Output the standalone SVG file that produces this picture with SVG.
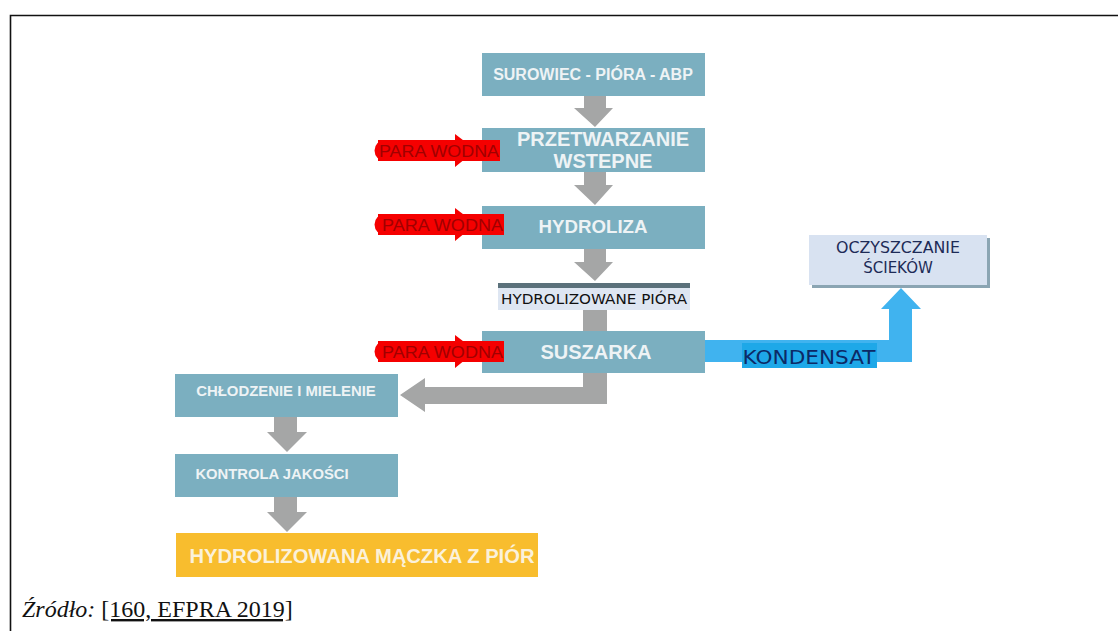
<svg xmlns="http://www.w3.org/2000/svg" width="1118" height="631" viewBox="0 0 1118 631">
  <style>
    .box { fill: #7bafc0; }
    .btxt { font-family: "Liberation Sans", Arial, sans-serif; font-weight: bold; fill: #eef3f5; text-anchor: middle; }
    .gray { fill: #a5a6a6; }
    .steam { fill: #f50000; }
    .steamtxt { font-family: "Liberation Sans", Arial, sans-serif; font-size: 17px; fill: #a00000; }
    .dv { font-family: "DejaVu Sans", Verdana, sans-serif; }
  </style>

  <rect width="1118" height="631" fill="#ffffff"/>
  <!-- frame -->
  <path d="M10.5 631 V15.5 H1118" fill="none" stroke="#111" stroke-width="1.6"/>

  <!-- connectors -->
  <g id="connectors">
    <path class="gray" d="M584 96 H606 V108 H613 L595 127 L574 108 H584 Z"/>
    <path class="gray" d="M584 172 H606 V185 H613 L595 205 L574 185 H584 Z"/>
    <path class="gray" d="M584 249 H606 V262 H613 L595 281 L574 262 H584 Z"/>
    <rect class="gray" x="583" y="310" width="24" height="22"/>
    <path class="gray" d="M583 373 H607 V404 H425 V412 L400 395 L425 378 V387 H583 Z"/>
    <path class="gray" d="M274 417 H297 V432 H307 L287 452 L267 432 H274 Z"/>
    <path class="gray" d="M274 497 H297 V512 H307 L287 532 L267 512 H274 Z"/>
    <!-- condensate line -->
    <path fill="#40b3ef" d="M705 340 H889 V309 H881 L901 288 L921 309 H912 V362 H705 Z"/>
    <!-- steam inlets -->
    <path class="steam" d="M385 140 H455 V134 L476 150 L455 167 V161 H385 A10.5 10.5 0 0 1 385 140 Z"/>
    <path class="steam" d="M385 214 H455 V208 L476 224 L455 241 V235 H385 A10.5 10.5 0 0 1 385 214 Z"/>
    <path class="steam" d="M385 341 H455 V335 L476 351 L455 368 V362 H385 A10.5 10.5 0 0 1 385 341 Z"/>
  </g>

  <g id="surowiec">
    <rect class="box" x="482" y="53" width="223" height="43"/>
    <text class="btxt" x="593" y="80" font-size="16">SUROWIEC - PIÓRA - ABP</text>
  </g>

  <g id="przetwarzanie">
    <rect class="box" x="482" y="128" width="223" height="44"/>
    <text class="btxt" x="603" y="146" font-size="20">PRZETWARZANIE</text>
    <text class="btxt" x="603" y="168" font-size="20">WSTEPNE</text>
  </g>

  <g id="hydroliza">
    <rect class="box" x="482" y="206" width="223" height="43"/>
    <text class="btxt" x="593" y="233" font-size="18.7">HYDROLIZA</text>
  </g>

  <g id="hydrolizowane-piora">
    <rect x="498" y="283" width="192" height="5" fill="#5b717b"/>
    <rect x="498" y="288" width="192" height="22" fill="#dee6f2"/>
    <text class="dv" x="594" y="304" font-size="14.5" fill="#111" text-anchor="middle" textLength="186" lengthAdjust="spacingAndGlyphs">HYDROLIZOWANE PIÓRA</text>
  </g>

  <g id="suszarka">
    <rect class="box" x="482" y="331" width="223" height="42"/>
    <text class="btxt" x="596" y="359" font-size="20">SUSZARKA</text>
  </g>

  <g id="steam-1">
    <rect class="steam" x="378" y="140" width="122" height="21"/>
    <text class="steamtxt" x="379" y="157" textLength="120" lengthAdjust="spacingAndGlyphs">PARA WODNA</text>
  </g>
  <g id="steam-2">
    <rect class="steam" x="378" y="214" width="126" height="21"/>
    <text class="steamtxt" x="382" y="231" textLength="121" lengthAdjust="spacingAndGlyphs">PARA WODNA</text>
  </g>
  <g id="steam-3">
    <rect class="steam" x="378" y="341" width="126" height="21"/>
    <text class="steamtxt" x="382" y="358" textLength="121" lengthAdjust="spacingAndGlyphs">PARA WODNA</text>
  </g>

  <g id="kondensat">
    <rect x="742" y="343" width="135" height="25" fill="#1ea8e8"/>
    <text class="dv" x="809" y="364" font-size="20" fill="#0c2a66" text-anchor="middle" textLength="133" lengthAdjust="spacingAndGlyphs">KONDENSAT</text>
  </g>

  <g id="oczyszczanie">
    <rect x="812" y="238" width="178" height="50" fill="#8ba5b3"/>
    <rect x="809" y="235" width="178" height="50" fill="#d8e2f1"/>
    <text class="dv" x="898" y="253" font-size="15" fill="#1d2b57" text-anchor="middle" textLength="124" lengthAdjust="spacingAndGlyphs">OCZYSZCZANIE</text>
    <text class="dv" x="898" y="273" font-size="15" fill="#1d2b57" text-anchor="middle">ŚCIEKÓW</text>
  </g>

  <g id="chlodzenie">
    <rect class="box" x="175" y="374" width="223" height="43"/>
    <text class="btxt" x="286" y="396" font-size="14.9">CHŁODZENIE I MIELENIE</text>
  </g>

  <g id="kontrola">
    <rect class="box" x="175" y="454" width="223" height="43"/>
    <text class="btxt" x="272" y="479" font-size="14.8">KONTROLA JAKOŚCI</text>
  </g>

  <g id="maczka">
    <rect x="176" y="533" width="362" height="44" fill="#f8bd2e"/>
    <text class="btxt" x="362" y="563" font-size="20.2" style="fill:#fbf1da">HYDROLIZOWANA MĄCZKA Z PIÓR</text>
  </g>

  <g id="source">
    <text x="22" y="617" font-family="'Liberation Serif', 'Times New Roman', serif" font-size="24" fill="#111"><tspan font-style="italic">Źródło:</tspan> <tspan text-decoration="underline">[160, EFPRA 2019]</tspan></text>
  </g>
</svg>
